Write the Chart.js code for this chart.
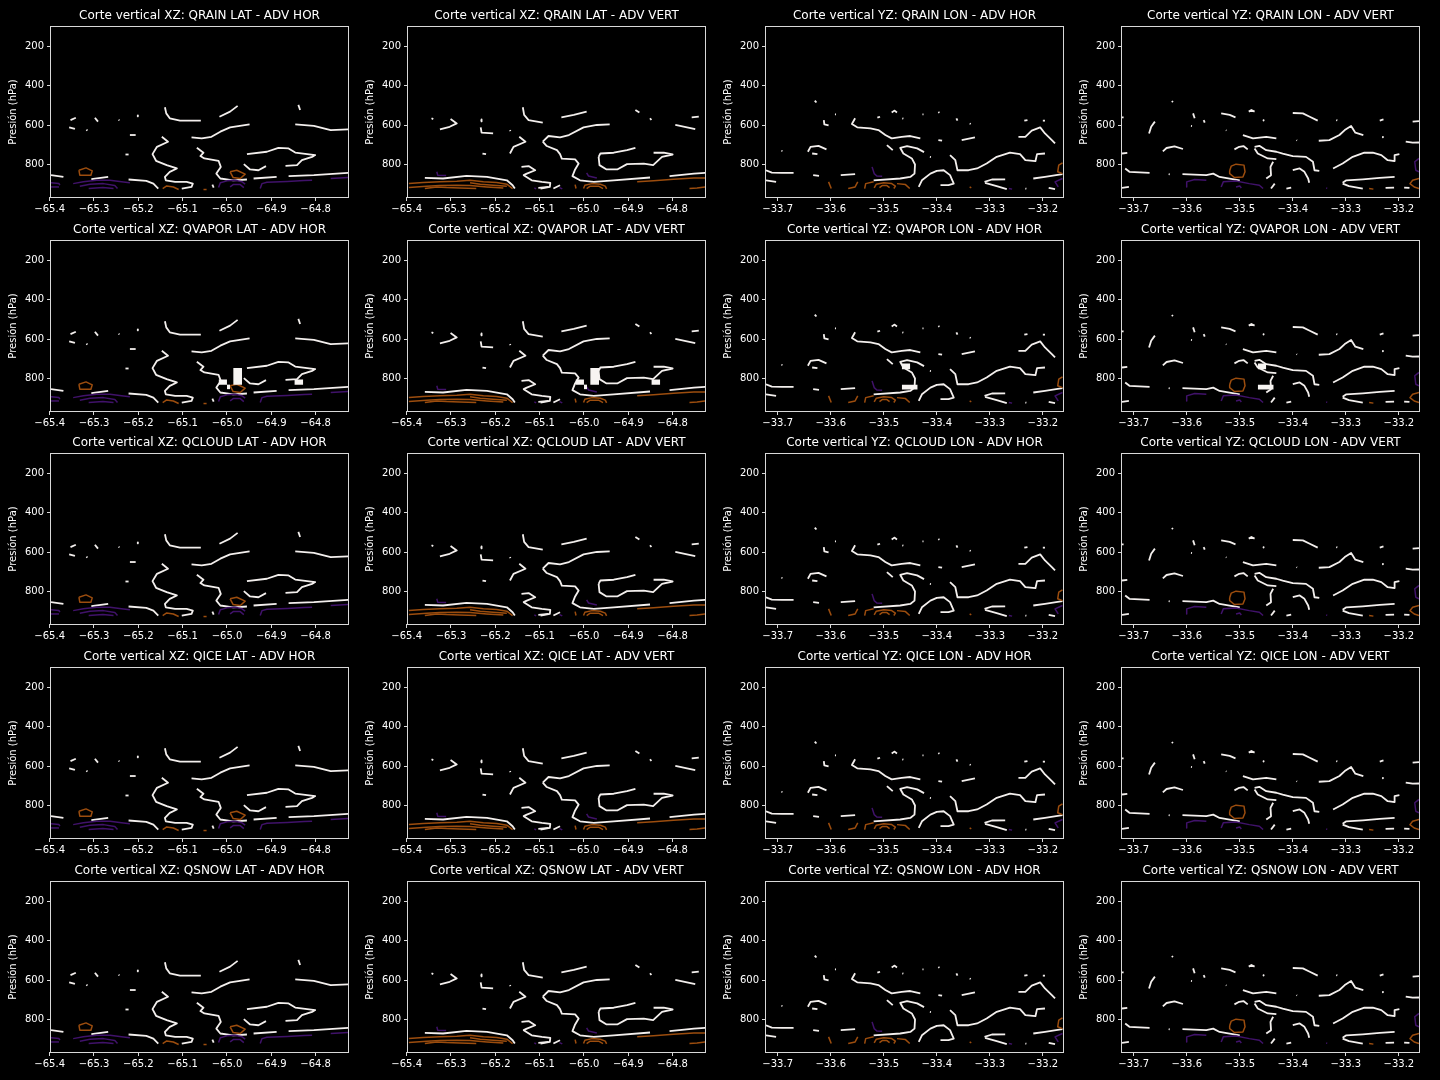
<!DOCTYPE html>
<html>
<head>
<meta charset="utf-8">
<script src="https://cdn.jsdelivr.net/npm/chart.js@4.4.1/dist/chart.umd.min.js"></script>
<style>
html,body{margin:0;padding:0;background:#000;}
#wrap{position:relative;width:1440px;height:1080px;background:#000;overflow:hidden;}
canvas{position:absolute;}
</style>
</head>
<body>
<div id="wrap"></div>
<script>
// ---------------- data ----------------
const VARIABLES = ['QRAIN','QVAPOR','QCLOUD','QICE','QSNOW'];
const XZ_TICKS = [-65.4,-65.3,-65.2,-65.1,-65.0,-64.9,-64.8];
const YZ_TICKS = [-33.7,-33.6,-33.5,-33.4,-33.3,-33.2];
const P_TICKS = [200,400,600,800];
const XZ_RANGE = [-65.397,-64.727];
const YZ_RANGE = [-33.722,-33.162];
const P_RANGE = [101,965];

// contour lines: [lon/lat, pressure hPa]
const WHITE_XZ_HOR = [
 [[-65.353,574],[-65.341,562]],
 [[-65.356,611],[-65.343,619]],
 [[-65.298,562],[-65.291,582]],
 [[-65.317,623],[-65.315,628]],
 [[-65.244,572],[-65.243,576]],
 [[-65.202,550],[-65.201,555]],
 [[-65.219,650],[-65.206,650]],
 [[-65.229,749],[-65.222,749]],
 [[-65.140,509],[-65.137,540],[-65.129,565],[-65.106,577],[-65.059,577]],
 [[-65.017,557],[-64.993,531],[-64.976,502]],
 [[-65.080,662],[-65.057,667],[-65.035,659],[-65.015,633],[-64.993,611],[-64.949,596]],
 [[-64.839,497],[-64.835,523]],
 [[-64.846,596],[-64.804,603],[-64.766,625],[-64.725,621]],
 [[-65.147,659],[-65.133,684],[-65.158,710],[-65.168,747],[-65.160,781],[-65.136,803],[-65.113,820],[-65.129,837],[-65.140,863],[-65.138,880],[-65.117,888],[-65.091,888],[-65.077,897],[-65.080,914],[-65.102,922]],
 [[-65.068,715],[-65.053,740],[-65.060,757],[-65.051,769],[-65.019,781],[-65.014,812],[-65.024,846],[-65.015,871],[-64.986,880],[-64.955,876]],
 [[-64.940,871],[-64.888,863]],
 [[-64.861,859],[-64.804,854],[-64.725,842]],
 [[-64.955,747],[-64.910,735],[-64.884,715],[-64.861,718],[-64.846,739],[-64.801,752],[-64.808,761],[-64.831,778],[-64.842,803],[-64.868,807]],
 [[-64.962,798],[-64.948,825],[-64.929,829],[-64.912,808]],
 [[-65.397,854],[-65.369,863]],
 [[-65.306,874],[-65.268,863]],
 [[-65.222,876],[-65.182,883],[-65.166,897],[-65.155,922]],
 [[-65.033,902],[-65.030,917]]
];
const ORANGE_XZ_HOR = [
 [[-65.334,829],[-65.318,817],[-65.304,832],[-65.307,854],[-65.332,854],[-65.334,829]],
 [[-64.993,837],[-64.978,829],[-64.959,849],[-64.970,871],[-64.986,866],[-64.993,837]],
 [[-65.145,922],[-65.136,909],[-65.121,914],[-65.109,927]],
 [[-65.053,927],[-65.046,927]]
];
const PURPLE_XZ_HOR = [
 [[-65.397,893],[-65.379,897],[-65.377,905]],
 [[-65.397,914],[-65.379,914]],
 [[-65.347,897],[-65.324,888],[-65.294,880],[-65.264,880],[-65.238,888],[-65.219,893]],
 [[-65.332,910],[-65.309,900],[-65.279,897],[-65.253,907],[-65.247,922]],
 [[-65.312,922],[-65.280,917],[-65.256,922]],
 [[-65.019,917],[-65.015,893],[-65.000,883],[-64.982,880],[-64.966,888],[-64.959,900]],
 [[-64.993,914],[-64.986,902],[-64.970,902],[-64.962,917]],
 [[-64.925,922],[-64.921,897],[-64.910,890],[-64.864,886],[-64.826,881],[-64.808,880]],
 [[-64.766,871],[-64.725,866]]
];

const WHITE_XZ_VERT = [
 [[-65.344,565],[-65.340,569]],
 [[-65.325,621],[-65.303,608],[-65.287,591],[-65.301,569]],
 [[-65.232,571],[-65.231,581]],
 [[-65.233,611],[-65.231,638],[-65.205,642]],
 [[-65.167,625],[-65.166,630]],
 [[-65.138,509],[-65.135,548],[-65.125,574],[-65.093,587]],
 [[-65.051,560],[-65.023,548],[-64.994,531]],
 [[-65.146,659],[-65.132,684],[-65.159,710],[-65.167,744]],
 [[-65.229,744],[-65.221,747]],
 [[-65.093,684],[-65.080,655],[-65.054,662],[-65.034,650],[-65.001,611],[-64.971,599],[-64.942,596]],
 [[-65.093,684],[-65.084,706],[-65.061,727],[-65.054,747],[-65.050,770],[-65.020,774],[-65.012,795],[-65.020,825],[-65.026,859],[-65.009,880],[-64.978,888],[-64.933,880],[-64.851,866]],
 [[-64.967,761],[-64.963,744],[-64.933,740],[-64.903,727],[-64.884,715]],
 [[-64.967,761],[-64.965,803],[-64.949,825],[-64.925,825],[-64.903,798],[-64.865,795],[-64.844,803],[-64.824,761],[-64.800,749],[-64.820,740],[-64.843,740]],
 [[-65.141,812],[-65.125,808],[-65.110,829],[-65.129,846],[-65.136,854],[-65.118,880],[-65.095,888],[-65.076,893],[-65.077,914],[-65.098,922]],
 [[-65.359,868],[-65.318,871],[-65.265,858],[-65.219,863],[-65.174,880],[-65.161,905],[-65.156,922]],
 [[-65.103,919],[-65.080,914]],
 [[-65.069,922],[-65.054,905]],
 [[-64.884,523],[-64.875,536]],
 [[-64.851,565],[-64.848,574]],
 [[-64.757,560],[-64.741,557]],
 [[-64.794,599],[-64.749,620]],
 [[-64.807,859],[-64.752,846],[-64.726,842]]
];
const ORANGE_XZ_VERT = [
 [[-65.395,897],[-65.363,891],[-65.325,888],[-65.287,885],[-65.257,880],[-65.227,888],[-65.197,891],[-65.174,900],[-65.161,922]],
 [[-65.395,917],[-65.355,910],[-65.325,907],[-65.287,905],[-65.257,907],[-65.219,914],[-65.182,919]],
 [[-65.359,922],[-65.332,914],[-65.310,917],[-65.280,919],[-65.243,922]],
 [[-65.257,893],[-65.234,900],[-65.205,905],[-65.174,910]],
 [[-64.880,888],[-64.843,883],[-64.798,875],[-64.752,869],[-64.726,868]],
 [[-64.762,922],[-64.745,919],[-64.726,914]],
 [[-65.001,922],[-64.998,905],[-64.982,897],[-64.963,900],[-64.952,910],[-64.949,924]],
 [[-64.994,922],[-64.986,910],[-64.967,910],[-64.957,922]],
 [[-65.020,902],[-65.018,922]]
];
const PURPLE_XZ_VERT = [
 [[-65.332,837],[-65.330,854],[-65.311,856]],
 [[-64.994,842],[-64.990,858],[-64.971,868]],
 [[-65.112,919],[-65.108,924]],
 [[-65.055,917],[-65.049,924]]
];

const WHITE_YZ_HOR = [
 [[-33.722,829],[-33.711,841],[-33.692,842],[-33.670,842]],
 [[-33.722,880],[-33.703,888]],
 [[-33.693,730],[-33.691,731]],
 [[-33.630,475],[-33.627,485]],
 [[-33.592,545],[-33.590,545]],
 [[-33.613,574],[-33.612,596],[-33.604,601]],
 [[-33.643,735],[-33.638,710],[-33.623,705],[-33.608,723]],
 [[-33.635,744],[-33.625,747]],
 [[-33.633,854],[-33.622,858]],
 [[-33.581,854],[-33.554,849]],
 [[-33.554,565],[-33.560,594],[-33.550,611],[-33.525,616],[-33.510,625],[-33.497,650],[-33.485,667],[-33.466,659],[-33.450,655],[-33.431,667]],
 [[-33.512,562],[-33.507,557]],
 [[-33.485,536],[-33.480,526],[-33.475,535]],
 [[-33.465,565],[-33.463,567]],
 [[-33.427,545],[-33.425,545]],
 [[-33.397,533],[-33.395,537]],
 [[-33.363,565],[-33.361,577]],
 [[-33.338,591],[-33.336,594]],
 [[-33.397,676],[-33.390,679]],
 [[-33.353,676],[-33.328,662]],
 [[-33.494,701],[-33.483,727]],
 [[-33.424,737],[-33.437,718],[-33.456,706],[-33.469,715],[-33.463,744],[-33.447,769],[-33.441,800],[-33.442,846],[-33.450,863],[-33.469,871],[-33.519,880]],
 [[-33.413,761],[-33.411,762]],
 [[-33.434,914],[-33.428,880],[-33.412,846],[-33.400,832],[-33.387,829],[-33.375,854],[-33.368,897],[-33.378,905],[-33.393,905]],
 [[-33.375,752],[-33.365,778],[-33.361,829],[-33.340,829],[-33.324,820],[-33.306,795],[-33.287,761],[-33.262,740],[-33.243,747],[-33.233,778],[-33.214,783],[-33.211,747],[-33.196,744]],
 [[-33.246,659],[-33.233,659],[-33.221,628],[-33.205,611],[-33.196,642],[-33.183,676],[-33.177,693]],
 [[-33.235,577],[-33.229,574]],
 [[-33.200,577],[-33.196,577]],
 [[-33.310,888],[-33.296,876],[-33.271,875]],
 [[-33.309,893],[-33.287,910],[-33.268,925]],
 [[-33.218,871],[-33.196,863],[-33.163,849]],
 [[-33.233,922],[-33.231,923]],
 [[-33.189,919],[-33.177,925]]
];
const ORANGE_YZ_HOR = [
 [[-33.604,888],[-33.599,922]],
 [[-33.567,922],[-33.554,914],[-33.549,888]],
 [[-33.536,922],[-33.534,897],[-33.519,888]],
 [[-33.518,919],[-33.514,900],[-33.500,893],[-33.485,897],[-33.478,910],[-33.481,922]],
 [[-33.508,917],[-33.503,907],[-33.494,907],[-33.489,917]],
 [[-33.475,897],[-33.459,902],[-33.451,922]],
 [[-33.338,914],[-33.335,919]],
 [[-33.163,791],[-33.170,803],[-33.172,837],[-33.163,846]]
];
const PURPLE_YZ_HOR = [
 [[-33.522,812],[-33.518,846],[-33.513,858],[-33.503,859]],
 [[-33.264,922],[-33.258,925]],
 [[-33.163,871],[-33.177,888],[-33.171,914]]
];

const WHITE_YZ_VERT = [
 [[-33.722,560],[-33.719,560]],
 [[-33.722,744],[-33.712,741]],
 [[-33.716,820],[-33.708,837],[-33.670,842]],
 [[-33.722,919],[-33.709,914]],
 [[-33.628,477],[-33.626,483]],
 [[-33.660,582],[-33.667,608],[-33.671,642]],
 [[-33.645,733],[-33.638,716],[-33.623,708],[-33.607,721]],
 [[-33.634,849],[-33.632,850]],
 [[-33.588,540],[-33.585,565]],
 [[-33.592,604],[-33.590,605]],
 [[-33.568,574],[-33.566,587]],
 [[-33.608,849],[-33.563,854],[-33.550,846],[-33.538,863],[-33.500,880]],
 [[-33.535,540],[-33.519,548],[-33.508,560]],
 [[-33.483,531],[-33.478,523],[-33.472,531]],
 [[-33.456,574],[-33.455,576]],
 [[-33.526,625],[-33.525,627]],
 [[-33.494,650],[-33.475,667],[-33.450,659],[-33.431,667]],
 [[-33.510,723],[-33.501,710],[-33.493,706],[-33.485,723]],
 [[-33.400,538],[-33.381,540],[-33.368,557],[-33.353,577]],
 [[-33.318,574],[-33.316,576]],
 [[-33.236,577],[-33.229,571]],
 [[-33.174,582],[-33.162,579]],
 [[-33.393,676],[-33.392,678]],
 [[-33.351,679],[-33.331,676],[-33.312,650],[-33.302,625],[-33.290,604],[-33.282,638],[-33.267,650]],
 [[-33.231,659],[-33.230,661]],
 [[-33.187,684],[-33.174,689],[-33.162,688]],
 [[-33.472,710],[-33.463,705],[-33.450,727],[-33.431,735],[-33.419,744],[-33.400,757],[-33.375,761],[-33.362,786],[-33.359,829],[-33.350,832]],
 [[-33.472,718],[-33.466,744],[-33.447,769],[-33.431,773]],
 [[-33.437,786],[-33.442,812],[-33.441,854],[-33.450,871]],
 [[-33.441,922],[-33.434,897]],
 [[-33.412,922],[-33.403,917]],
 [[-33.400,829],[-33.387,820],[-33.378,837],[-33.371,871],[-33.369,893]],
 [[-33.324,820],[-33.306,795],[-33.287,761],[-33.265,739],[-33.249,740],[-33.233,752],[-33.221,778],[-33.208,783],[-33.208,752],[-33.199,747]],
 [[-33.306,893],[-33.299,880],[-33.268,875],[-33.236,868],[-33.208,863]],
 [[-33.306,897],[-33.294,910],[-33.268,922]],
 [[-33.225,919],[-33.209,917]],
 [[-33.190,917],[-33.180,919]]
];
const ORANGE_YZ_VERT = [
 [[-33.519,832],[-33.516,808],[-33.507,798],[-33.492,803],[-33.490,837],[-33.494,863],[-33.510,866],[-33.519,846],[-33.519,832]],
 [[-33.256,922],[-33.248,925]],
 [[-33.162,871],[-33.174,880],[-33.179,897],[-33.171,914],[-33.162,922]]
];
const PURPLE_YZ_VERT = [
 [[-33.601,914],[-33.600,888],[-33.585,876],[-33.563,880]],
 [[-33.535,914],[-33.531,888],[-33.507,884],[-33.482,897],[-33.463,905],[-33.456,922]],
 [[-33.507,914],[-33.500,909],[-33.497,919]],
 [[-33.162,769],[-33.170,786],[-33.168,829],[-33.162,837]],
 [[-33.337,919],[-33.335,921]]
];

// filled white cells in QVAPOR panels: [x1, x2, pTop, pBottom]
const BLOCKS_XZ = [[-65.019,-65.000,805,831],[-65.000,-64.993,831,854],[-64.986,-64.966,746,831],[-64.848,-64.828,805,831]];
const BLOCKS_YZ = [[-33.466,-33.450,724,753],[-33.466,-33.436,831,856]];

// ---------------- layout / style ----------------
const PANELS = [
 {plane:'XZ', dir:'LAT', adv:'ADV HOR',  range:XZ_RANGE, ticks:XZ_TICKS, white:WHITE_XZ_HOR,  orange:ORANGE_XZ_HOR,  purple:PURPLE_XZ_HOR,  blocks:BLOCKS_XZ},
 {plane:'XZ', dir:'LAT', adv:'ADV VERT', range:XZ_RANGE, ticks:XZ_TICKS, white:WHITE_XZ_VERT, orange:ORANGE_XZ_VERT, purple:PURPLE_XZ_VERT, blocks:BLOCKS_XZ},
 {plane:'YZ', dir:'LON', adv:'ADV HOR',  range:YZ_RANGE, ticks:YZ_TICKS, white:WHITE_YZ_HOR,  orange:ORANGE_YZ_HOR,  purple:PURPLE_YZ_HOR,  blocks:BLOCKS_YZ},
 {plane:'YZ', dir:'LON', adv:'ADV VERT', range:YZ_RANGE, ticks:YZ_TICKS, white:WHITE_YZ_VERT, orange:ORANGE_YZ_VERT, purple:PURPLE_YZ_VERT, blocks:BLOCKS_YZ}
];
const CANVAS_LEFT = [0,357,715,1071];
const CANVAS_TOP = [0,214,427,641,855];
const AXW = 51, PLOTW = 297;
const CW = AXW + PLOTW + AXW, CH = 227;
const C_WHITE = '#f3efed', C_ORANGE = '#9c4d0e', C_PURPLE = '#40126a';
const FONT = 'DejaVu Sans';

const framePlugin = {
  id:'frame',
  afterDraw(chart){
    const a = chart.chartArea, ctx = chart.ctx;
    ctx.save();
    ctx.strokeStyle = '#d8d8d8';
    ctx.lineWidth = 1;
    ctx.strokeRect(Math.round(a.left)-0.5, Math.round(a.top)-0.5, Math.round(a.right-a.left)+1, Math.round(a.bottom-a.top)+1);
    ctx.restore();
  }
};

function lineSets(list, color, width){
  return list.map(seg => ({
    data: seg.map(p => ({x:p[0], y:p[1]})),
    borderColor: color, borderWidth: width, pointRadius: 0, fill: false,
    tension: 0, borderJoinStyle: 'round', borderCapStyle: 'butt'
  }));
}
function blockSets(list){
  return list.map(b => ({
    data: [{x:b[0], y:b[2]}, {x:b[1], y:b[2]}],
    borderWidth: 0, pointRadius: 0, backgroundColor: '#f7f4f2',
    fill: {value: b[3]}
  }));
}
const fmtX = v => (Math.round(v*10)/10).toFixed(1).replace('-', '\u2212');

const wrap = document.getElementById('wrap');
VARIABLES.forEach((vname, r) => {
  PANELS.forEach((pn, c) => {
    const cv = document.createElement('canvas');
    cv.width = CW; cv.height = CH;
    cv.style.left = CANVAS_LEFT[c] + 'px';
    cv.style.top = CANVAS_TOP[r] + 'px';
    cv.style.width = CW + 'px'; cv.style.height = CH + 'px';
    wrap.appendChild(cv);
    let datasets = [];
    if (vname === 'QVAPOR') datasets = datasets.concat(blockSets(pn.blocks));
    datasets = datasets.concat(lineSets(pn.purple, C_PURPLE, 1.5), lineSets(pn.orange, C_ORANGE, 1.5), lineSets(pn.white, C_WHITE, 1.8));
    const xt = pn.ticks;
    new Chart(cv, {
      type: 'line',
      data: {datasets},
      options: {
        responsive: false, animation: false, events: [],
        layout: {padding: 0},
        plugins: {
          legend: {display:false}, tooltip: {enabled:false},
          title: {display:true, text:`Corte vertical ${pn.plane}: ${vname} ${pn.dir} - ${pn.adv}`, color:'#ffffff',
                  font:{family:FONT, size:12, weight:'normal'}, padding:{top:9, bottom:3.6}}
        },
        scales: {
          x: {
            type:'linear', min:pn.range[0], max:pn.range[1],
            afterBuildTicks: s => { s.ticks = xt.map(v => ({value:v})); },
            afterFit: s => { s.height = 30; },
            ticks: {color:'#ffffff', font:{family:FONT, size:10}, padding:2, maxRotation:0, minRotation:0, autoSkip:false, callback: v => fmtX(v)},
            grid: {display:true, drawOnChartArea:false, drawTicks:true, tickLength:4, color:'#d8d8d8'},
            border: {display:false}
          },
          y: {
            type:'linear', reverse:true, min:P_RANGE[0], max:P_RANGE[1],
            afterBuildTicks: s => { s.ticks = P_TICKS.map(v => ({value:v})); },
            afterFit: s => { s.width = AXW; },
            title: {display:true, text:'Presión (hPa)', color:'#ffffff', font:{family:FONT, size:10}, padding:{top:7, bottom:0}},
            ticks: {color:'#ffffff', font:{family:FONT, size:10}, padding:3, autoSkip:false, callback: v => String(v)},
            grid: {display:true, drawOnChartArea:false, drawTicks:true, tickLength:4, color:'#d8d8d8'},
            border: {display:false}
          },
          spacer: {
            type:'linear', axis:'y', position:'right', display:true,
            afterFit: s => { s.width = AXW; },
            ticks: {display:false}, grid: {display:false, drawTicks:false}, border: {display:false}
          }
        }
      },
      plugins: [framePlugin]
    });
  });
});
</script>
</body>
</html>
